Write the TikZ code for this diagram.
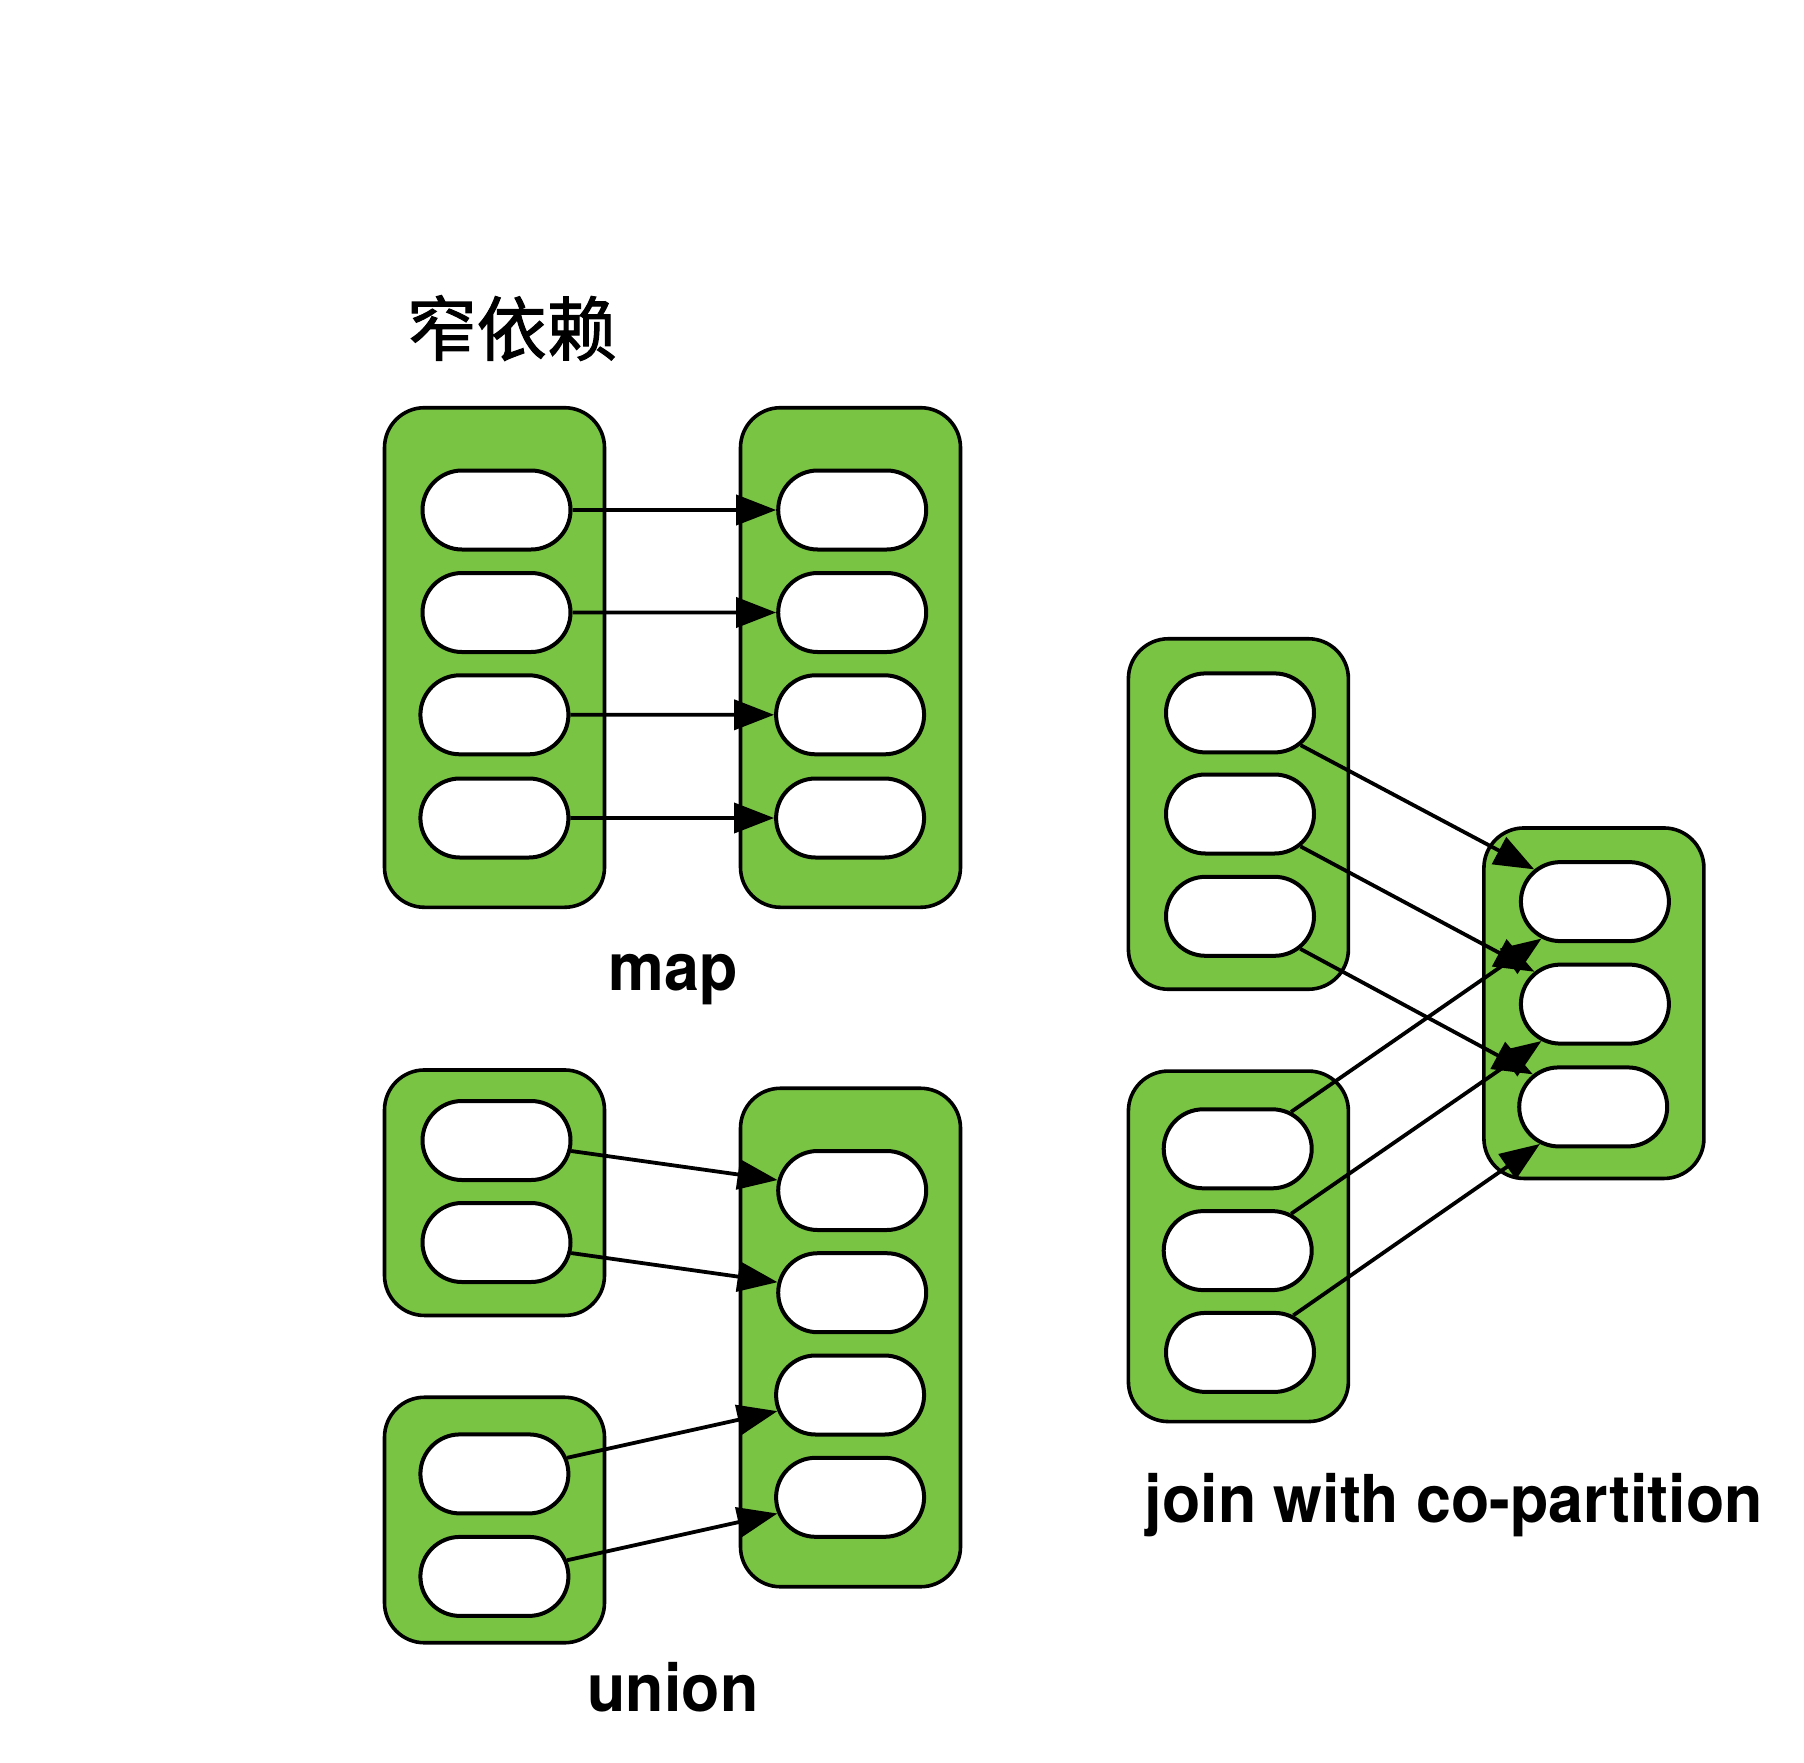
\documentclass[tikz,border=0pt]{standalone}
\usepackage{fontspec}
\setmainfont{TeX Gyre Heros}
\newfontfamily\cjk{Noto Sans CJK SC}[FakeBold=1.5]
\usetikzlibrary{shapes.misc,arrows.meta}
\definecolor{boxgreen}{RGB}{122,196,68}
\begin{document}
\begin{tikzpicture}[x=0.5pt,y=-0.5pt,
  part/.style={draw=black,line width=1.8pt,fill=boxgreen,rounded corners=20pt,minimum width=110pt,inner sep=0pt},
  pill/.style={draw=black,line width=2pt,fill=white,rounded rectangle,minimum width=74pt,minimum height=39.5pt,inner sep=0pt},
  dep/.style={line width=1.9pt,-{Triangle[length=20pt,width=15pt]}},
  lbl/.style={font=\bfseries\fontsize{33pt}{36pt}\selectfont,anchor=base,inner sep=0pt}]
\useasboundingbox (0,0) rectangle (1804,1762);

% title
\node[anchor=base,inner sep=0pt,font=\cjk\fontsize{35pt}{40pt}\selectfont] (title) at (511.7,355) {窄依赖};

% ---------- map ----------
\node[part,minimum height=249.8pt] (mapL) at (494.5,657.5) {};
\node[part,minimum height=249.8pt] (mapR) at (850.5,657.5) {};
\node[pill] (ml1) at (496.5,510) {};
\node[pill] (ml2) at (496.5,612.5) {};
\node[pill] (ml3) at (494.4,714.8) {};
\node[pill] (ml4) at (494.4,818) {};
\node[pill] (mr1) at (852.2,510) {};
\node[pill] (mr2) at (852.2,612.5) {};
\node[pill] (mr3) at (850.1,714.8) {};
\node[pill] (mr4) at (850.1,818) {};
\draw[dep] (ml1) -- (mr1);
\draw[dep] (ml2) -- (mr2);
\draw[dep] (ml3) -- (mr3);
\draw[dep] (ml4) -- (mr4);
\node[lbl] (maplbl) at (672.9,990.7) {\scalebox{0.95}[1]{map}};

% ---------- union ----------
\node[part,minimum height=122.75pt] (unA) at (494.5,1192.7) {};
\node[part,minimum height=122.75pt] (unB) at (494.5,1520) {};
\node[part,minimum height=249.25pt] (unR) at (850.5,1337.5) {};
\node[pill] (ua1) at (496.5,1140.5) {};
\node[pill] (ua2) at (496.5,1242.5) {};
\node[pill] (ub1) at (494.4,1473.9) {};
\node[pill] (ub2) at (494.4,1576.4) {};
\node[pill] (ur1) at (852.2,1190.5) {};
\node[pill] (ur2) at (852.2,1292.7) {};
\node[pill] (ur3) at (850.1,1395) {};
\node[pill] (ur4) at (850.1,1497.3) {};
\draw[dep] (ua1) -- (ur1);
\draw[dep] (ua2) -- (ur2);
\draw[dep] (ub1) -- (ur3);
\draw[dep] (ub2) -- (ur4);
\node[lbl] (unionlbl) at (673,1711.4) {\scalebox{0.95}[1]{union}};

% ---------- join with co-partition ----------
\node[part,minimum height=175.25pt] (jA) at (1238.4,814) {};
\node[part,minimum height=175.25pt] (jB) at (1238.4,1246.3) {};
\node[part,minimum height=175.25pt] (jR) at (1593.9,1003.2) {};
\node[pill] (ja1) at (1240,712.9) {};
\node[pill] (ja2) at (1240,814) {};
\node[pill] (ja3) at (1240,916.3) {};
\node[pill] (jb1) at (1237.7,1148.8) {};
\node[pill] (jb2) at (1237.7,1250.6) {};
\node[pill] (jb3) at (1240,1352.4) {};
\node[pill] (jr1) at (1594.9,901.6) {};
\node[pill] (jr2) at (1594.9,1004.1) {};
\node[pill] (jr3) at (1593.2,1106.9) {};
\draw[dep] (ja1) -- (jr1);
\draw[dep] (ja2) -- (jr2);
\draw[dep] (ja3) -- (jr3);
\draw[dep] (jb1) -- (jr1);
\draw[dep] (jb2) -- (jr2);
\draw[dep] (jb3) -- (jr3);
\node[lbl] (joinlbl) at (1453.8,1522.3) {\scalebox{0.95}[1]{join with co-partition}};
\end{tikzpicture}
\end{document}
